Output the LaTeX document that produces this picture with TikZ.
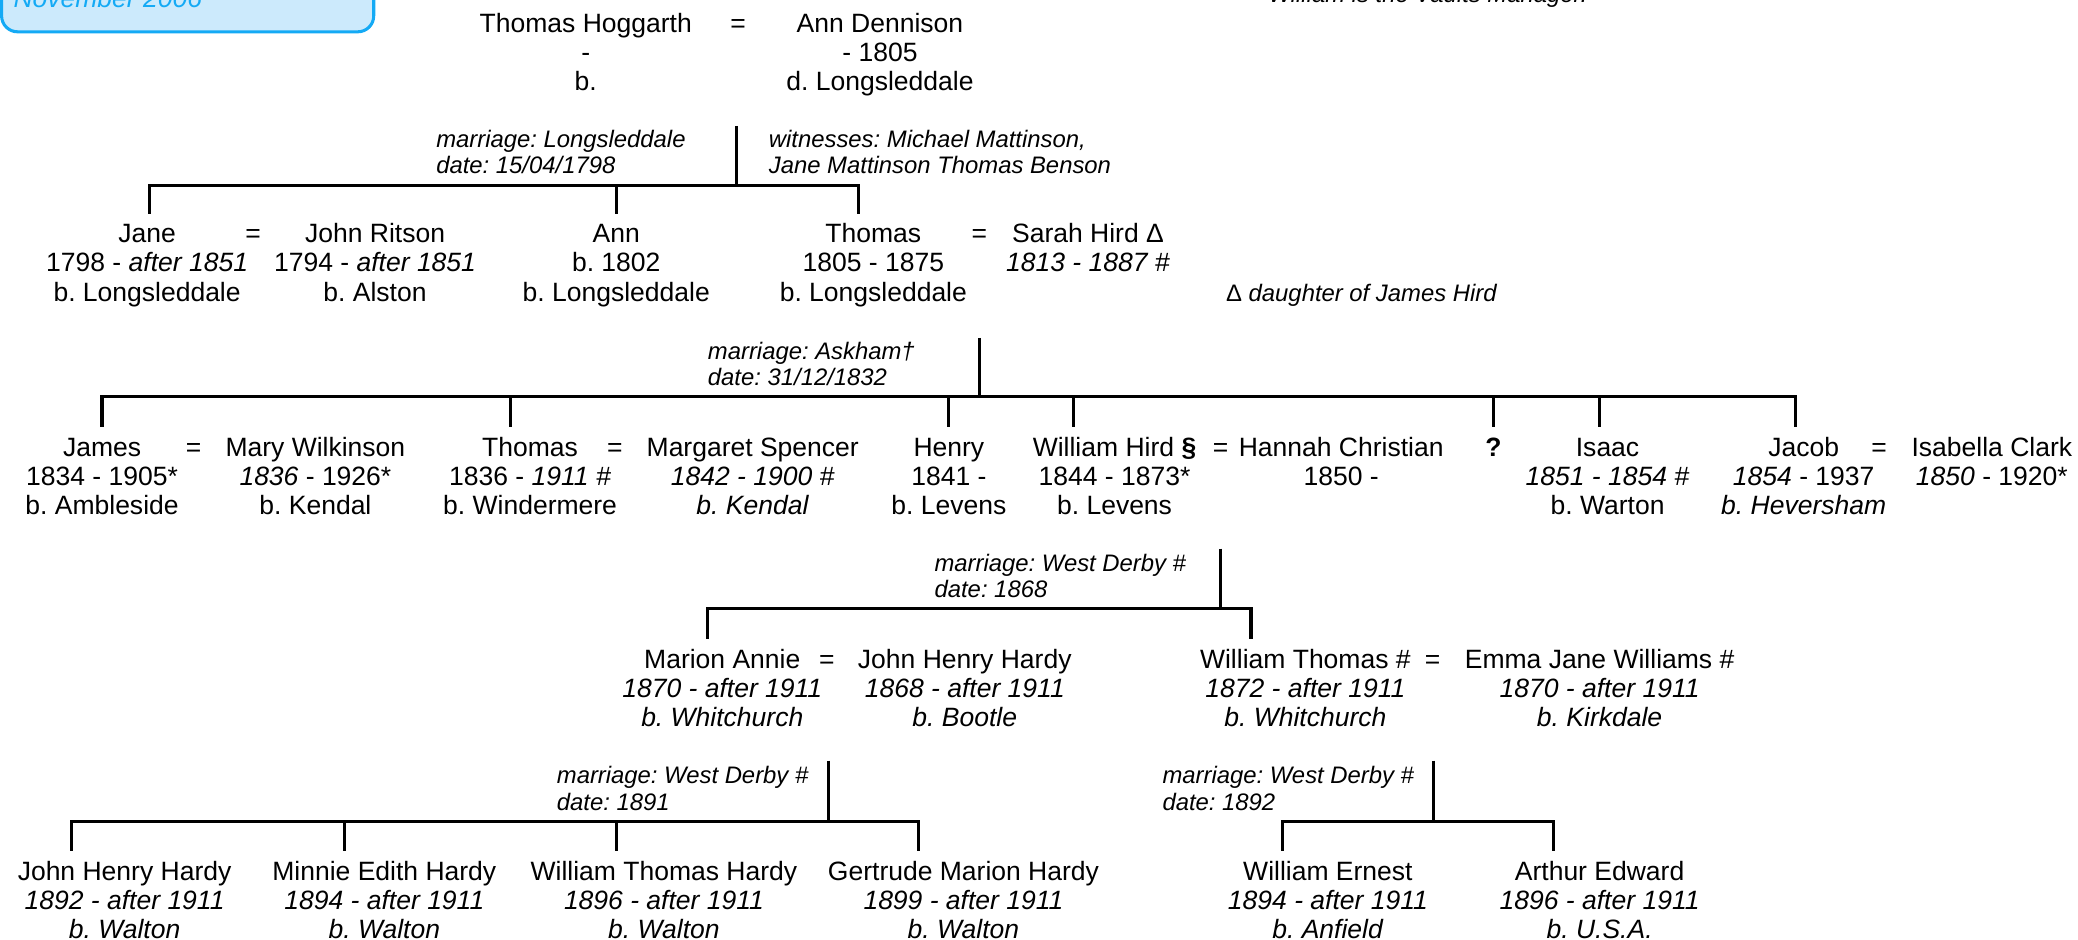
\documentclass[tikz,border=0pt]{standalone}
\usepackage{fontspec}
\setmainfont{Liberation Sans}
\definecolor{boxblue}{HTML}{14AAF5}
\definecolor{boxfill}{HTML}{CCEAFC}
\begin{document}
\frenchspacing
\begin{tikzpicture}[x=1pt,y=-1pt,
  person/.style={anchor=north,align=center,inner sep=0pt,font=\fontsize{20}{22}\selectfont\frenchspacing},
  note/.style={anchor=north west,align=left,inner sep=0pt,font=\fontsize{18}{20}\selectfont\itshape\frenchspacing},
  tie/.style={line width=2.2pt},
  fam/.style={line width=2.4pt,line join=miter,shorten <=6.5pt,shorten >=6.5pt},
  drop/.style={line width=2.2pt,shorten >=6.5pt},
]
\useasboundingbox (0,0) rectangle (1568,709);

% header remnants
\draw[line width=2.3pt,draw=boxblue,fill=boxfill,rounded corners=12pt] (1.2,-60) rectangle (282,24);
\node[anchor=base west,inner sep=0pt,font=\fontsize{20}{22}\selectfont\itshape,text=boxblue] (nov) at (10,6) {November 2006};
\node[anchor=base west,inner sep=0pt,font=\fontsize{18}{20}\selectfont\itshape\frenchspacing] (vaults) at (957,2) {William is the Vaults Manager.};

% generation 0
\node[person] (th) at (442,8.6) {\strut Thomas Hoggarth\\-\\b.};
\node[person] (eq0) at (557,8.6) {\strut =};
\node[person] (ad) at (664,8.6) {\strut Ann Dennison\\- 1805\\d. Longsleddale};
\node[note] (n0a) at (329,97) {\strut marriage: Longsleddale\\date: 15/04/1798};
\node[note] (n0b) at (580,97) {\strut witnesses: Michael Mattinson,\\Jane Mattinson Thomas Benson};

% generation 1
\node[person] (jane) at (111,167.6) {\strut Jane\\1798 - \textit{after 1851}\\b. Longsleddale};
\node[person] (eq1a) at (191,167.6) {\strut =};
\node[person] (jritson) at (283,167.6) {\strut John Ritson\\1794 - \textit{after 1851}\\b. Alston};
\node[person] (ann) at (465,167.6) {\strut Ann\\b. 1802\\b. Longsleddale};
\node[person] (thomas1) at (659,167.6) {\strut Thomas\\1805 - 1875\\b. Longsleddale};
\node[person] (eq1b) at (739,167.6) {\strut =};
\node[person] (sarah) at (821,167.6) {\strut Sarah Hird Δ\\\textit{1813 - 1887 \#}};
\node[note] (dnote) at (925,213) {\strut{\upshape Δ} daughter of James Hird};
\node[note] (n1) at (534,257) {\strut marriage: Askham†\\date: 31/12/1832};

% generation 2
\node[person] (james) at (77,328.6) {\strut James\\1834 - 1905*\\b. Ambleside};
\node[person] (eq2a) at (146,328.6) {\strut =};
\node[person] (mary) at (238,328.6) {\strut Mary Wilkinson\\\textit{1836} - 1926*\\b. Kendal};
\node[person] (thomas2) at (400,328.6) {\strut Thomas\\1836 - \textit{1911 \#}\\b. Windermere};
\node[person] (eq2b) at (464,328.6) {\strut =};
\node[person] (margaret) at (568,328.6) {\strut Margaret Spencer\\\textit{1842 - 1900 \#}\\\textit{b. Kendal}};
\node[person] (henry) at (716,328.6) {\strut Henry\\1841 -\\b. Levens};
\node[person] (william) at (841,328.6) {\strut William Hird \textbf{§}\\1844 - 1873*\\b. Levens};
\node[person] (eq2c) at (921,328.6) {\strut =};
\node[person] (hannah) at (1012,328.6) {\strut Hannah Christian\\1850 -};
\node[person] (qmark) at (1127,328.6) {\strut\textbf{?}};
\node[person] (isaac) at (1213,328.6) {\strut Isaac\\\textit{1851 - 1854 \#}\\b. Warton};
\node[person] (jacob) at (1361,328.6) {\strut Jacob\\\textit{1854} - 1937\\\textit{b. Heversham}};
\node[person] (eq2d) at (1418,328.6) {\strut =};
\node[person] (isabella) at (1503,328.6) {\strut Isabella Clark\\\textit{1850} - 1920*};
\node[note] (n2) at (705,417) {\strut marriage: West Derby \#\\date: 1868};

% generation 3
\node[person] (marion) at (545,488.6) {\strut Marion Annie\\\textit{1870 - after 1911}\\\textit{b. Whitchurch}};
\node[person] (eq3a) at (624,488.6) {\strut =};
\node[person] (jhh) at (728,488.6) {\strut John Henry Hardy\\\textit{1868 - after 1911}\\\textit{b. Bootle}};
\node[person] (wt) at (985,488.6) {\strut William Thomas \#\\\textit{1872 - after 1911}\\\textit{b. Whitchurch}};
\node[person] (eq3b) at (1081,488.6) {\strut =};
\node[person] (emma) at (1207,488.6) {\strut Emma Jane Williams \#\\\textit{1870 - after 1911}\\\textit{b. Kirkdale}};
\node[note] (n3a) at (420,577) {\strut marriage: West Derby \#\\date: 1891};
\node[note] (n3b) at (877,577) {\strut marriage: West Derby \#\\date: 1892};

% generation 4
\node[person] (c1) at (94,648.6) {\strut John Henry Hardy\\\textit{1892 - after 1911}\\\textit{b. Walton}};
\node[person] (c2) at (290,648.6) {\strut Minnie Edith Hardy\\\textit{1894 - after 1911}\\\textit{b. Walton}};
\node[person] (c3) at (501,648.6) {\strut William Thomas Hardy\\\textit{1896 - after 1911}\\\textit{b. Walton}};
\node[person] (c4) at (727,648.6) {\strut Gertrude Marion Hardy\\\textit{1899 - after 1911}\\\textit{b. Walton}};
\node[person] (c5) at (1002,648.6) {\strut William Ernest\\\textit{1894 - after 1911}\\\textit{b. Anfield}};
\node[person] (c6) at (1207,648.6) {\strut Arthur Edward\\\textit{1896 - after 1911}\\\textit{b. U.S.A.}};

% connectors: generation 0 -> 1
\coordinate (m0) at (556,95);
\coordinate (b0) at (556,140);
\coordinate (d0a) at (113,140);
\coordinate (d0b) at (465,140);
\coordinate (d0c) at (648,140);
\draw[tie] (m0) -- (b0);
\draw[fam] (jane.north -| d0a) -- (d0a) -- (d0c) -- (thomas1.north -| d0c);
\draw[drop] (d0b) -- (ann.north -| d0b);

% connectors: generation 1 -> 2
\coordinate (m1) at (739,255);
\coordinate (b1) at (739,299);
\coordinate (d1a) at (77,299);
\coordinate (d1b) at (385,299);
\coordinate (d1c) at (716,299);
\coordinate (d1d) at (810,299);
\coordinate (d1e) at (1127,299);
\coordinate (d1f) at (1207,299);
\coordinate (d1g) at (1355,299);
\draw[tie] (m1) -- (b1);
\draw[fam] (james.north -| d1a) -- (d1a) -- (d1g) -- (jacob.north -| d1g);
\draw[drop] (d1b) -- (thomas2.north -| d1b);
\draw[drop] (d1c) -- (henry.north -| d1c);
\draw[drop] (d1d) -- (william.north -| d1d);
\draw[drop] (d1e) -- (qmark.north -| d1e);
\draw[drop] (d1f) -- (isaac.north -| d1f);

% connectors: generation 2 -> 3
\coordinate (m2) at (921,414);
\coordinate (b2) at (921,459);
\coordinate (d2a) at (534,459);
\coordinate (d2b) at (944,459);
\draw[tie] (m2) -- (b2);
\draw[fam] (marion.north -| d2a) -- (d2a) -- (d2b) -- (wt.north -| d2b);

% connectors: generation 3 -> 4 (left)
\coordinate (m3a) at (625,574);
\coordinate (b3a) at (625,620);
\coordinate (d3a) at (54,620);
\coordinate (d3b) at (260,620);
\coordinate (d3c) at (465,620);
\coordinate (d3d) at (693,620);
\draw[tie] (m3a) -- (b3a);
\draw[fam] (c1.north -| d3a) -- (d3a) -- (d3d) -- (c4.north -| d3d);
\draw[drop] (d3b) -- (c2.north -| d3b);
\draw[drop] (d3c) -- (c3.north -| d3c);

% connectors: generation 3 -> 4 (right)
\coordinate (m3b) at (1082,574);
\coordinate (b3b) at (1082,620);
\coordinate (d3e) at (968,620);
\coordinate (d3f) at (1172,620);
\draw[tie] (m3b) -- (b3b);
\draw[fam] (c5.north -| d3e) -- (d3e) -- (d3f) -- (c6.north -| d3f);
\end{tikzpicture}
\end{document}
